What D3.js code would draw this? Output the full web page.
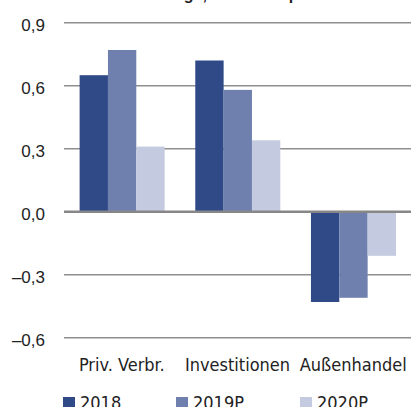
<!DOCTYPE html>
<meta charset="utf-8">
<style>

body {
  margin: 0;
}

.tick-label {
  font: 17px "Liberation Sans", Arial, sans-serif;
  fill: #222;
  text-anchor: end;
}

.cat-label, .legend-label {
  font: 18px "Liberation Sans Narrow", "DejaVu Sans Condensed", sans-serif;
  fill: #222;
}

.title {
  font: bold 16px "Liberation Sans", Arial, sans-serif;
  fill: #222;
}

</style>
<svg width="411" height="407"></svg>
<script src="https://cdnjs.cloudflare.com/ajax/libs/d3/7.8.5/d3.min.js"></script>
<script>

var categories = ["Priv. Verbr.", "Investitionen", "Außenhandel"];
var seriesNames = ["2018", "2019P", "2020P"];
var values2018 = [0.65, 0.72, -0.43];
var values2019 = [0.77, 0.58, -0.41];
var values2020 = [0.31, 0.34, -0.21];
var tickValues = [-0.6, -0.3, 0.0, 0.3, 0.6, 0.9];
var colors = ["#2f4a87", "#6f80ae", "#c4cadf"];

var series = [values2018, values2019, values2020];

var svg = d3.select("svg");

var locale = d3.formatLocale({decimal: ",", thousands: ".", grouping: [3], currency: ["", " €"], minus: "–"});
var format = locale.format(".1f");

var x0 = d3.scaleBand()
    .domain(categories)
    .range([64, 411]);

var x1 = d3.scaleBand()
    .domain(seriesNames)
    .range([x0.bandwidth() * 0.135, x0.bandwidth() * 0.87]);

var y = d3.scaleLinear()
    .domain([-0.6, 0.9])
    .range([337.7, 22.7]);

// title, mostly cut off at the top
svg.append("text")
    .attr("class", "title")
    .attr("x", 51)
    .attr("y", 0)
    .text("Wachstumsbeiträge, in Prozentpunkten");

// gridlines
svg.append("g")
  .selectAll("line")
  .data(tickValues.filter(function(d) { return d !== 0; }))
  .enter().append("line")
    .attr("x1", 64)
    .attr("x2", 411)
    .attr("y1", function(d) { return y(d); })
    .attr("y2", function(d) { return y(d); })
    .attr("stroke", "#8f8f8f")
    .attr("stroke-width", 1.5);

svg.append("g")
  .selectAll("text")
  .data(tickValues)
  .enter().append("text")
    .attr("class", "tick-label")
    .attr("x", 45)
    .attr("y", function(d) { return y(d) + 2; })
    .attr("dy", "0.35em")
    .text(function(d) { return format(d); });

// bars
var group = svg.append("g")
  .selectAll("g")
  .data(categories)
  .enter().append("g")
    .attr("transform", function(d) { return "translate(" + x0(d) + ",0)"; });

group.selectAll("rect")
    .data(function(d, i) {
      return seriesNames.map(function(s, j) { return {key: s, value: series[j][i], color: colors[j]}; });
    })
  .enter().append("rect")
    .attr("x", function(d) { return x1(d.key); })
    .attr("width", x1.bandwidth())
    .attr("y", function(d) { return y(Math.max(0, d.value)); })
    .attr("height", function(d) { return Math.abs(y(d.value) - y(0)); })
    .attr("fill", function(d) { return d.color; });

// zero line on top
svg.append("line")
    .attr("x1", 64)
    .attr("x2", 411)
    .attr("y1", y(0))
    .attr("y2", y(0))
    .attr("stroke", "#878787")
    .attr("stroke-width", 2.5);

svg.append("g")
  .selectAll("text")
  .data(categories)
  .enter().append("text")
    .attr("class", "cat-label")
    .attr("x", function(d) { return x0(d) + x0.bandwidth() / 2; })
    .attr("y", 370.5)
    .attr("text-anchor", "middle")
    .text(function(d) { return d; });

// legend
var legendX = [63, 176, 300];

var legend = svg.append("g")
  .selectAll("g")
  .data(seriesNames)
  .enter().append("g")
    .attr("transform", function(d, i) { return "translate(" + legendX[i] + ",397)"; });

legend.append("rect")
    .attr("width", 12)
    .attr("height", 12)
    .attr("fill", function(d, i) { return colors[i]; });

legend.append("text")
    .attr("class", "legend-label")
    .attr("x", 17)
    .attr("y", 12)
    .text(function(d) { return d; });

</script>
